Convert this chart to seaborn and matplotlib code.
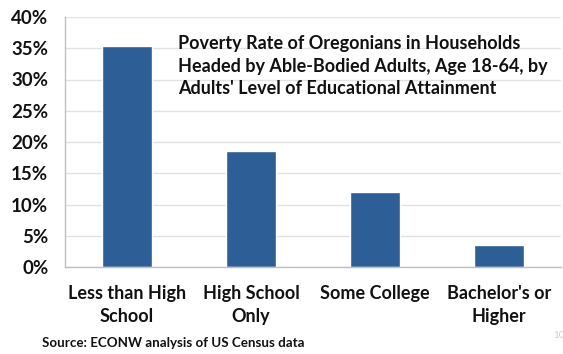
import matplotlib
matplotlib.use("Agg")
import matplotlib.pyplot as plt
import seaborn as sns
import pandas as pd
from matplotlib.ticker import FuncFormatter, MultipleLocator

categories = ["Less than High\nSchool", "High School\nOnly", "Some College", "Bachelor's or\nHigher"]
poverty_rate = [35.4, 18.6, 12.0, 3.5]

sns.set_theme(style="white")
plt.rcParams['font.family'] = ['Lato', 'DejaVu Sans']

df = pd.DataFrame({"cat": categories, "rate": poverty_rate})

fig = plt.figure(figsize=(5.63, 3.54), dpi=100)
ax = fig.add_axes([65/563, 1 - 267/354, 496/563, 250/354])
sns.barplot(data=df, x="cat", y="rate", color="#2E5E96", saturation=1, width=0.4, ax=ax)

ax.set_ylim(0, 40)
ax.yaxis.set_major_locator(MultipleLocator(5))
ax.yaxis.set_major_formatter(FuncFormatter(lambda v, p: f"{v:.0f}%"))
ax.grid(axis="y", color="#E3E3E3", linewidth=1)
ax.set_axisbelow(True)
ax.set_xlabel("")
ax.set_ylabel("")
for s in ["top", "right"]:
    ax.spines[s].set_visible(False)
for s in ["left", "bottom"]:
    ax.spines[s].set_color("#BFBFBF")
    ax.spines[s].set_linewidth(1)
ax.tick_params(axis="y", length=0, pad=12, labelsize=13.5)
ax.tick_params(axis="x", length=0, pad=13, labelsize=13)
for lbl in ax.get_yticklabels() + ax.get_xticklabels():
    lbl.set_fontweight("bold")
    lbl.set_color("#111111")
for lbl in ax.get_xticklabels():
    lbl.set_linespacing(1.45)

fig.text(178/563, 1 - 35/354,
         "Poverty Rate of Oregonians in Households\nHeaded by Able-Bodied Adults, Age 18-64, by\nAdults' Level of Educational Attainment",
         ha="left", va="top", fontsize=13, fontweight="bold", color="#111111", linespacing=1.4)
fig.text(42/563, 1 - 343/354, "Source: ECONW analysis of US Census data",
         ha="left", va="center", fontsize=9.6, fontweight="bold", color="#111111")
fig.text(553/563, 1 - 336/354, "10", ha="left", va="center", fontsize=7, color="#D0D0D0")

fig.savefig("out.png", dpi=100)
